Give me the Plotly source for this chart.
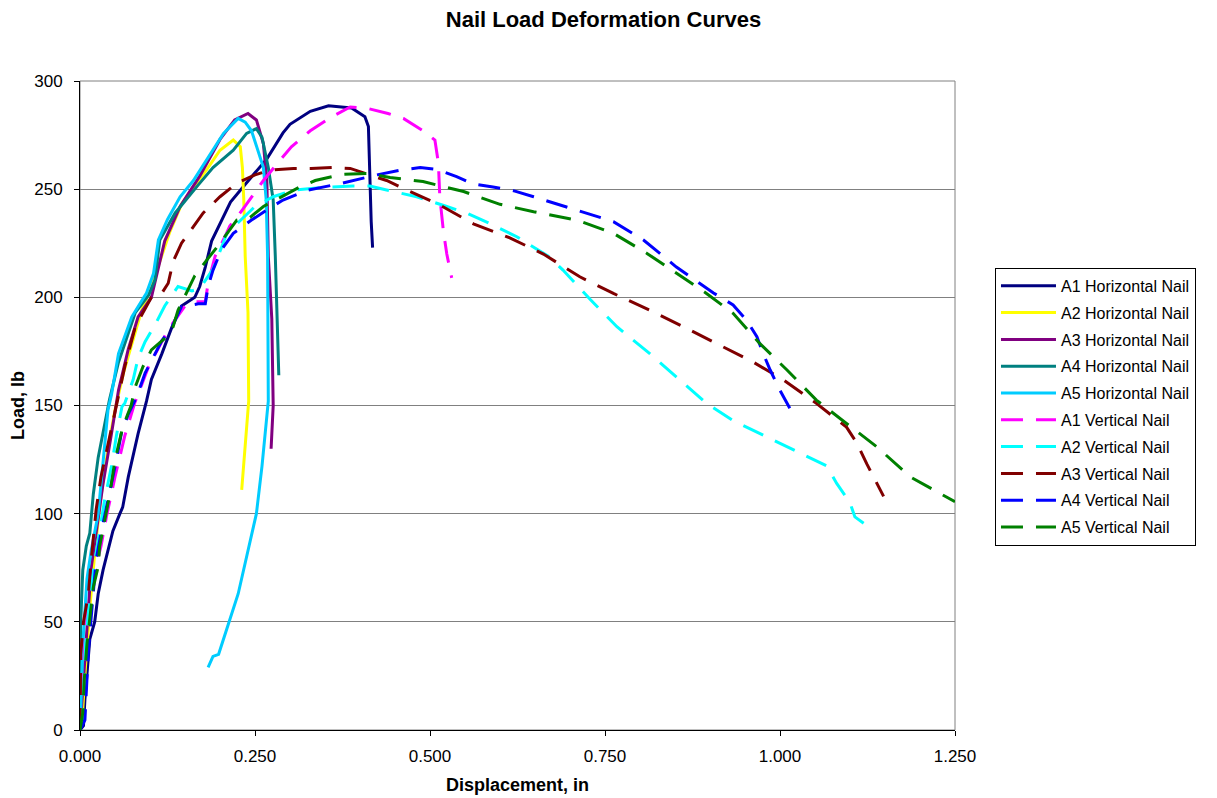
import plotly.graph_objects as go

# ---- data (displacement in, load lb) ----
a1h_x = [0.000, 0.005, 0.007, 0.010, 0.014, 0.021, 0.026, 0.033, 0.038, 0.047, 0.057, 0.061, 0.069, 0.083, 0.095, 0.102, 0.117, 0.131, 0.145, 0.164, 0.171, 0.179, 0.188, 0.200, 0.215, 0.238, 0.267, 0.290, 0.300, 0.329, 0.355, 0.388, 0.407, 0.412, 0.414, 0.416, 0.418]
a1h_y = [0, 2, 14, 28, 42, 50, 63, 74, 80, 92, 100, 103, 117, 137, 152, 162, 174, 186, 196, 200, 205, 214, 226, 234, 244, 253, 264, 276, 280, 286, 288.5, 287.5, 283.5, 279, 250, 235, 223]

a2h_x = [0.000, 0.004, 0.008, 0.015, 0.022, 0.030, 0.040, 0.050, 0.062, 0.075, 0.088, 0.100, 0.112, 0.128, 0.145, 0.162, 0.181, 0.200, 0.219, 0.229, 0.232, 0.234, 0.236, 0.240, 0.241, 0.237, 0.231]
a2h_y = [0, 10, 30, 60, 85, 108, 130, 148, 165, 180, 194, 203, 215, 230, 243, 251, 259, 268, 272.7, 269.6, 260, 245, 219, 193, 152, 134, 111]

a3h_x = [0.000, 0.004, 0.010, 0.016, 0.023, 0.033, 0.045, 0.052, 0.055, 0.069, 0.083, 0.102, 0.110, 0.121, 0.143, 0.171, 0.200, 0.221, 0.240, 0.252, 0.262, 0.267, 0.269, 0.274, 0.276, 0.274, 0.273]
a3h_y = [0, 20, 45, 75, 91, 114, 137, 152, 157, 176, 191, 200, 211, 226, 242, 256, 273, 282, 285, 282, 271, 253, 219, 190, 150, 137, 130]

a4h_x = [0.000, 0.000, 0.001, 0.004, 0.009, 0.014, 0.019, 0.026, 0.034, 0.042, 0.055, 0.079, 0.098, 0.107, 0.114, 0.136, 0.169, 0.190, 0.219, 0.238, 0.252, 0.260, 0.269, 0.276, 0.279, 0.281, 0.283, 0.284]
a4h_y = [0, 25, 50, 74, 85, 91, 109, 126, 140, 152.5, 170, 193, 201, 208, 226.5, 239, 252, 260, 268, 275.8, 278, 274, 260, 245, 219, 193, 170, 164]

a5h_x = [0.000, 0.002, 0.005, 0.010, 0.016, 0.026, 0.035, 0.040, 0.045, 0.055, 0.074, 0.095, 0.105, 0.112, 0.125, 0.143, 0.162, 0.181, 0.205, 0.226, 0.236, 0.245, 0.252, 0.262, 0.266, 0.268, 0.269, 0.265, 0.260, 0.252, 0.240, 0.226, 0.212, 0.198, 0.190, 0.185, 0.188, 0.183]
a5h_y = [0, 15, 45, 70, 83, 100, 129, 148, 155, 174, 191, 202, 211, 226.5, 236, 246.5, 254, 263.5, 275.8, 282.7, 281, 277, 270, 260, 245, 219, 152, 137, 122, 100, 83, 63, 49, 35, 34, 30, 33, 29]

a1v_x = [0.000, 0.002, 0.006, 0.012, 0.020, 0.030, 0.038, 0.050, 0.064, 0.078, 0.098, 0.126, 0.150, 0.164, 0.179, 0.183, 0.193, 0.207, 0.214, 0.231, 0.245, 0.262, 0.286, 0.302, 0.329, 0.357, 0.386, 0.410, 0.440, 0.462, 0.490, 0.507, 0.512, 0.514, 0.519, 0.524, 0.531]
a1v_y = [0, 14, 35, 60, 72, 85, 99, 117, 136, 151, 168, 185, 196, 198, 198, 206.5, 219, 228, 233, 240, 246.5, 254, 263.5, 269.6, 277, 283, 288, 287.4, 285, 282.7, 277, 272.7, 262, 246.5, 231, 220, 209]

a2v_x = [0.000, 0.003, 0.008, 0.015, 0.026, 0.035, 0.045, 0.052, 0.060, 0.064, 0.076, 0.083, 0.093, 0.110, 0.121, 0.140, 0.160, 0.171, 0.190, 0.210, 0.250, 0.276, 0.305, 0.357, 0.390, 0.414, 0.438, 0.481, 0.524, 0.552, 0.586, 0.624, 0.669, 0.690, 0.729, 0.767, 0.814, 0.857, 0.895, 0.933, 0.990, 1.043, 1.067, 1.081, 1.100, 1.107, 1.126]
a2v_y = [0, 5, 40, 65, 88, 106, 122, 136, 149.5, 151, 162, 172, 179.5, 189, 196, 205, 203, 204, 213, 229.6, 242, 246.5, 249.6, 251, 251.5, 251.5, 249.6, 246.5, 242, 239, 234, 228, 219, 212.6, 199, 186.4, 174, 162, 151, 143, 134, 126, 122, 114, 105, 98.5, 94]

a3v_x = [0.000, 0.000, 0.001, 0.005, 0.012, 0.016, 0.023, 0.030, 0.045, 0.054, 0.064, 0.079, 0.102, 0.117, 0.126, 0.133, 0.145, 0.176, 0.200, 0.224, 0.250, 0.271, 0.305, 0.330, 0.360, 0.386, 0.414, 0.438, 0.467, 0.514, 0.562, 0.614, 0.662, 0.714, 0.762, 0.814, 0.862, 0.910, 0.962, 1.005, 1.052, 1.095, 1.110, 1.124, 1.148]
a3v_y = [0, 20, 35, 50, 63, 78.6, 101.7, 117, 140, 152.5, 168, 186.4, 200, 202, 206.5, 216.5, 225, 239, 246.5, 252.7, 256.6, 258.8, 259.6, 259.6, 260, 259.6, 256.6, 254, 249.6, 242.7, 234, 227.5, 220, 209.5, 201.8, 194, 186.4, 178.7, 170, 161.8, 151, 140, 132.5, 123, 108]

a4v_x = [0.000, 0.007, 0.012, 0.021, 0.023, 0.030, 0.040, 0.050, 0.059, 0.069, 0.081, 0.093, 0.117, 0.131, 0.145, 0.169, 0.179, 0.183, 0.190, 0.202, 0.219, 0.245, 0.267, 0.290, 0.326, 0.374, 0.424, 0.457, 0.486, 0.509, 0.538, 0.562, 0.590, 0.619, 0.648, 0.710, 0.762, 0.805, 0.852, 0.905, 0.933, 0.952, 0.967, 0.976, 0.986, 1.000, 1.014]
a4v_y = [0, 4.6, 37, 72, 78.6, 91, 106, 121.7, 137, 146, 154, 165, 180, 186, 195.7, 197, 197, 205, 212.6, 222, 229.6, 235.7, 240.4, 245, 249.6, 252.7, 256.6, 258.8, 260, 259.2, 255.8, 252.4, 251, 249.3, 246.5, 240.4, 235, 226.5, 214, 202, 196.5, 189.5, 181.8, 174, 166.4, 157, 148.7]

a5v_x = [0.000, 0.004, 0.006, 0.010, 0.019, 0.026, 0.028, 0.035, 0.042, 0.050, 0.061, 0.073, 0.079, 0.090, 0.102, 0.121, 0.133, 0.140, 0.150, 0.164, 0.183, 0.200, 0.224, 0.243, 0.262, 0.293, 0.314, 0.336, 0.374, 0.410, 0.443, 0.490, 0.548, 0.600, 0.648, 0.710, 0.762, 0.810, 0.852, 0.895, 0.933, 0.971, 1.010, 1.052, 1.095, 1.138, 1.186, 1.250]
a5v_y = [0, 8, 23, 40, 66, 75.5, 84.7, 97, 108, 124.8, 140, 150, 158.7, 168, 175.7, 181, 186.4, 194, 201, 210, 218, 225, 235.7, 237, 242, 247.3, 251, 254, 256.8, 257.3, 255.4, 253.5, 248.9, 243, 239.6, 235.7, 229.6, 220.3, 211, 201.8, 192.6, 178.7, 166.4, 152.5, 141.7, 131, 117, 105.5]

series_names = ["A1 Horizontal Nail", "A2 Horizontal Nail", "A3 Horizontal Nail", "A4 Horizontal Nail", "A5 Horizontal Nail",
                "A1 Vertical Nail", "A2 Vertical Nail", "A3 Vertical Nail", "A4 Vertical Nail", "A5 Vertical Nail"]
series_x = [a1h_x, a2h_x, a3h_x, a4h_x, a5h_x, a1v_x, a2v_x, a3v_x, a4v_x, a5v_x]
series_y = [a1h_y, a2h_y, a3h_y, a4h_y, a5h_y, a1v_y, a2v_y, a3v_y, a4v_y, a5v_y]
series_colors = ["#000080", "#FFFF00", "#800080", "#008080", "#00CCFF",
                 "#FF00FF", "#00FFFF", "#800000", "#0000FF", "#008000"]
series_dash = ["solid"] * 5 + ["22px,13px"] * 5

x_ticks = [0.0, 0.25, 0.5, 0.75, 1.0, 1.25]
y_ticks = [0, 50, 100, 150, 200, 250, 300]

FONT = "Liberation Sans, Arial, sans-serif"

fig = go.Figure()
for i, name in enumerate(series_names):
    fig.add_trace(go.Scatter(
        x=series_x[i], y=series_y[i], name=name, mode="lines",
        legendgroup=f"g{i}",
        line=dict(color=series_colors[i], width=3, dash=series_dash[i]),
    ))

# page body has an 8px margin, so the figure is offset by 8px
fig.update_layout(
    width=1217, height=798,
    margin=dict(l=72, r=270, t=73, b=76),
    paper_bgcolor="white", plot_bgcolor="white",
    font=dict(family=FONT, size=16, color="black"),
    title=dict(text="Nail Load Deformation Curves", x=0.4893, xref="container", xanchor="center",
               y=1 - 11 / 798, yanchor="middle",
               font=dict(family=FONT, size=22, weight="bold", color="black")),
    showlegend=True,
    legend=dict(x=1.0457, xanchor="left", y=0.712, yanchor="top",
                bordercolor="black", borderwidth=1, bgcolor="white",
                font=dict(family=FONT, size=16, color="black"),
                itemwidth=55,
                tracegroupgap=3, traceorder="grouped"),
)

fig.update_xaxes(
    automargin=False,
    range=[0, 1.25], tickvals=x_ticks, tickformat=".3f",
    showgrid=False, zeroline=False,
    showline=True, linecolor="black", linewidth=1,
    ticks="outside", ticklen=5, tickcolor="black", ticklabelstandoff=6,
    tickfont=dict(family=FONT, size=17),
    title=dict(text="Displacement, in", standoff=12,
               font=dict(family=FONT, size=18, weight="bold")),
)
fig.update_yaxes(
    automargin=False,
    range=[0, 300], tickvals=y_ticks,
    showgrid=True, gridcolor="#808080", gridwidth=1, zeroline=False,
    showline=True, linecolor="black", linewidth=1,
    ticks="outside", ticklen=5, tickcolor="black", ticklabelstandoff=8,
    tickfont=dict(family=FONT, size=17),
    title=dict(text="Load, lb", standoff=10,
               font=dict(family=FONT, size=18, weight="bold")),
)

# plot-area frame (top/right edges in gray)
fig.add_shape(type="rect", xref="paper", yref="paper", x0=0, y0=0, x1=1, y1=1,
              line=dict(color="#808080", width=1), layer="below")

fig.write_html("out.html")
